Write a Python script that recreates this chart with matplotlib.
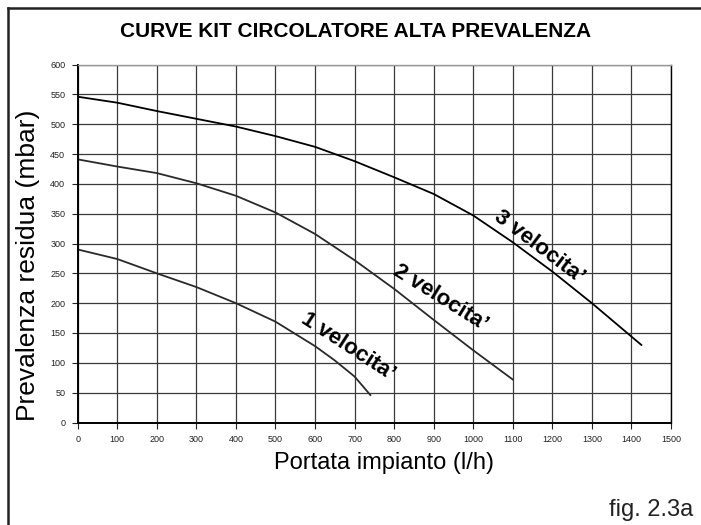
import matplotlib
matplotlib.use("Agg")
import matplotlib.pyplot as plt
from matplotlib.lines import Line2D

plt.rcParams['font.family'] = ['Liberation Sans', 'DejaVu Sans']

# Curves (portata l/h, prevalenza mbar)
v1_x = [0, 100, 200, 300, 400, 500, 600, 650, 700, 740]
v1_y = [290, 274, 250, 227, 200, 169, 128, 104, 77, 46]

v2_x = [0, 100, 200, 300, 400, 500, 600, 700, 800, 900, 1000, 1100]
v2_y = [441, 429, 418, 401, 380, 352, 316, 272, 224, 172, 121, 72]

v3_x = [0, 100, 200, 300, 400, 500, 600, 700, 800, 900, 1000, 1100, 1200, 1300, 1425]
v3_y = [546, 536, 522, 509, 496, 480, 462, 438, 411, 383, 347, 302, 253, 200, 130]

x_ticks = list(range(0, 1501, 100))
y_ticks = list(range(0, 601, 50))

labels = ["1 velocita\u2019", "2 velocita\u2019", "3 velocita\u2019"]

fig = plt.figure(figsize=(7.01, 5.25), dpi=100)
ax = fig.add_axes([77.7 / 701, 1 - 422.5 / 525, (671 - 77.7) / 701, (422.5 - 64.5) / 525])

ax.set_xlim(0, 1500)
ax.set_ylim(0, 600)
ax.set_xticks(x_ticks)
ax.set_yticks(y_ticks)
ax.grid(True, color='#3a3a3a', linewidth=0.9)
ax.set_axisbelow(True)
ax.tick_params(labelsize=6.5, colors='#222222', length=4, width=0.8, pad=5)

for side in ['left', 'bottom']:
    ax.spines[side].set_linewidth(1.4)
    ax.spines[side].set_color('black')
ax.spines['right'].set_linewidth(1.0)
ax.spines['top'].set_color('#999999')
ax.spines['top'].set_linewidth(1.0)

ax.plot(v1_x, v1_y, color='#2a2a2a', linewidth=1.3)
ax.plot(v2_x, v2_y, color='#2a2a2a', linewidth=1.3)
ax.plot(v3_x, v3_y, color='black', linewidth=1.3)

# curve labels (pixel centres / angles)
lab_pos = [(348, 347, -33), (440, 298, -32), (539, 247, -37)]
for txt, (px, py, rot) in zip(labels, lab_pos):
    fig.text(px / 701, 1 - py / 525, txt, fontsize=16, fontweight='bold',
             rotation=rot, ha='center', va='center', rotation_mode='anchor')

fig.text(356 / 701, 1 - 31.5 / 525, "CURVE KIT CIRCOLATORE ALTA PREVALENZA",
         fontsize=15, fontweight='bold', ha='center', va='center')
fig.text(384 / 701, 1 - 463 / 525, "Portata impianto (l/h)",
         fontsize=17, ha='center', va='center')
fig.text(28 / 701, 1 - 265 / 525, "Prevalenza residua (mbar)",
         fontsize=19, rotation=90, ha='center', va='center')
fig.text(693 / 701, 1 - 510 / 525, "fig. 2.3a",
         fontsize=17, ha='right', va='center', color='#222222')

# outer frame (left and top edges visible)
fig.add_artist(Line2D([8 / 701, 8 / 701], [0, 1 - 8 / 525], color='#222222', linewidth=1.8))
fig.add_artist(Line2D([8 / 701, 1], [1 - 8 / 525, 1 - 8 / 525], color='#222222', linewidth=1.8))

fig.savefig("out.png", dpi=100)
